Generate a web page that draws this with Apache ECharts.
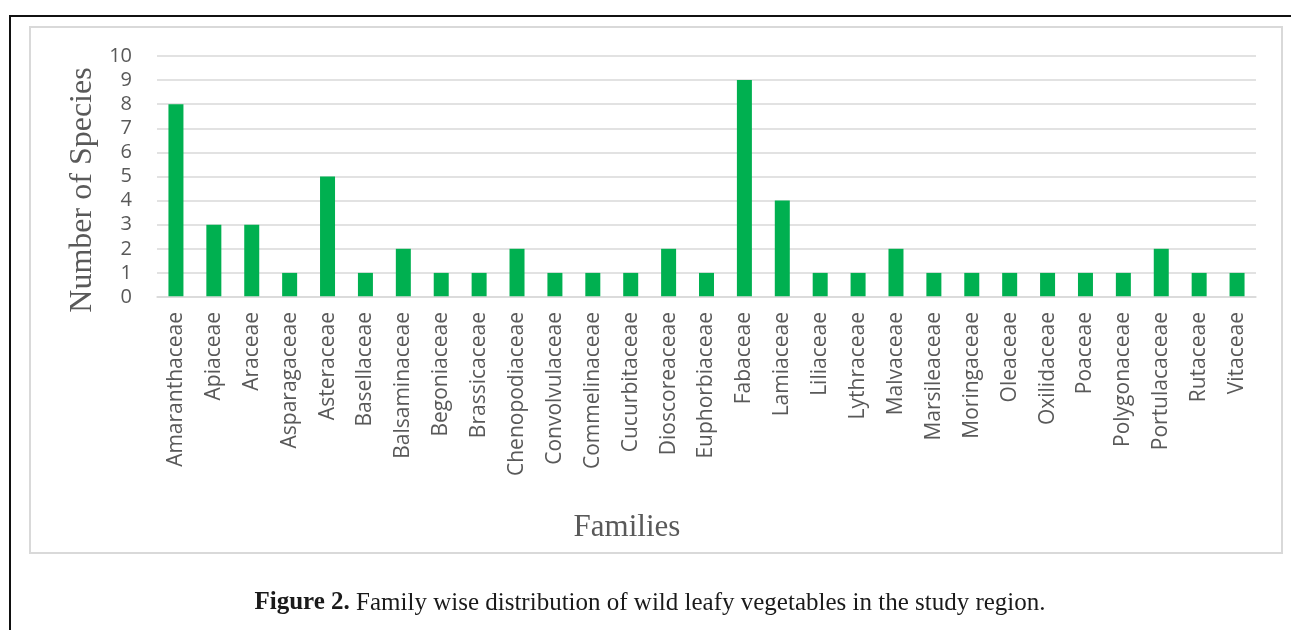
<!DOCTYPE html>
<html>
<head>
<meta charset="utf-8">
<script src="https://cdn.jsdelivr.net/npm/echarts@6/dist/echarts.min.js"></script>
<style>
    html, body { margin: 0; padding: 0; background: #fff; }
    #demo { width: 1291px; height: 630px; }
</style>
</head>
<body>
<div id="demo"></div>
<script>
// families (x axis) and number of species per family
var families = ['Amaranthaceae', 'Apiaceae', 'Araceae', 'Asparagaceae', 'Asteraceae', 'Basellaceae',
    'Balsaminaceae', 'Begoniaceae', 'Brassicaceae', 'Chenopodiaceae', 'Convolvulaceae', 'Commelinaceae',
    'Cucurbitaceae', 'Dioscoreaceae', 'Euphorbiaceae', 'Fabaceae', 'Lamiaceae', 'Liliaceae', 'Lythraceae',
    'Malvaceae', 'Marsileaceae', 'Moringaceae', 'Oleaceae', 'Oxilidaceae', 'Poaceae', 'Polygonaceae',
    'Portulacaceae', 'Rutaceae', 'Vitaceae'];
var species = [8, 3, 3, 1, 5, 1, 2, 1, 1, 2, 1, 1, 1, 2, 1, 9, 4, 1, 1, 2, 1, 1, 1, 1, 1, 1, 2, 1, 1];
var yTicks = [0, 10, 1]; // min, max, step

window.onload = function() {
    var grey = '#595959';
    var option = {
        animation: false,
        backgroundColor: '#fff',
        grid: {
            left: 157,
            top: 56,
            width: 1099,
            height: 241
        },
        xAxis: {
            type: 'category',
            data: families,
            z: 3, // zero line drawn over the bars, like the original
            axisLine: { show: true, lineStyle: { color: '#d9d9d9', width: 1.5 } },
            axisTick: { show: false },
            axisLabel: {
                interval: 0,
                rotate: 90,
                margin: 15,
                color: grey,
                fontFamily: 'Open Sans',
                fontSize: 21
            }
        },
        yAxis: {
            type: 'value',
            min: yTicks[0],
            max: yTicks[1],
            interval: yTicks[2],
            axisLine: { show: false },
            axisTick: { show: false },
            splitLine: { lineStyle: { color: '#d9d9d9', width: 1.5 } },
            axisLabel: {
                margin: 25,
                color: grey,
                fontFamily: 'Open Sans',
                fontSize: 20
            }
        },
        series: [{
            name: 'Number of Species',
            type: 'bar',
            data: species,
            barWidth: 15,
            itemStyle: { color: '#00b050' }
        }],
        graphic: [
            // outer page frame (runs off the right and bottom)
            {
                type: 'rect', z: 10,
                shape: { x: 10, y: 16, width: 1320, height: 700 },
                style: { fill: null, stroke: '#111', lineWidth: 2 }
            },
            // chart area border
            {
                type: 'rect', z: 10,
                shape: { x: 30, y: 27, width: 1252, height: 526 },
                style: { fill: null, stroke: '#d9d9d9', lineWidth: 2 }
            },
            {
                type: 'text', z: 10,
                x: 83, y: 190,
                rotation: Math.PI / 2,
                style: {
                    text: 'Number of Species',
                    fill: grey,
                    fontFamily: 'Liberation Serif',
                    fontSize: 32,
                    align: 'center',
                    verticalAlign: 'middle'
                }
            },
            {
                type: 'text', z: 10,
                x: 627, y: 528,
                style: {
                    text: 'Families',
                    fill: grey,
                    fontFamily: 'Liberation Serif',
                    fontSize: 31,
                    align: 'center',
                    verticalAlign: 'middle'
                }
            },
            {
                type: 'text', z: 10,
                x: 650, y: 603,
                style: {
                    text: '{b|Figure 2.} Family wise distribution of wild leafy vegetables in the study region.',
                    fill: '#1a1a1a',
                    fontFamily: 'Liberation Serif',
                    fontSize: 25,
                    align: 'center',
                    verticalAlign: 'middle',
                    rich: {
                        b: { fontWeight: 'bold', fontFamily: 'Liberation Serif', fontSize: 25, fill: '#1a1a1a' }
                    }
                }
            }
        ]
    };
    var myCharts = echarts.init(document.getElementById('demo'));
    myCharts.setOption(option);
    window.onresize = function() {
        myCharts.resize();
    };
};
</script>
</body>
</html>
